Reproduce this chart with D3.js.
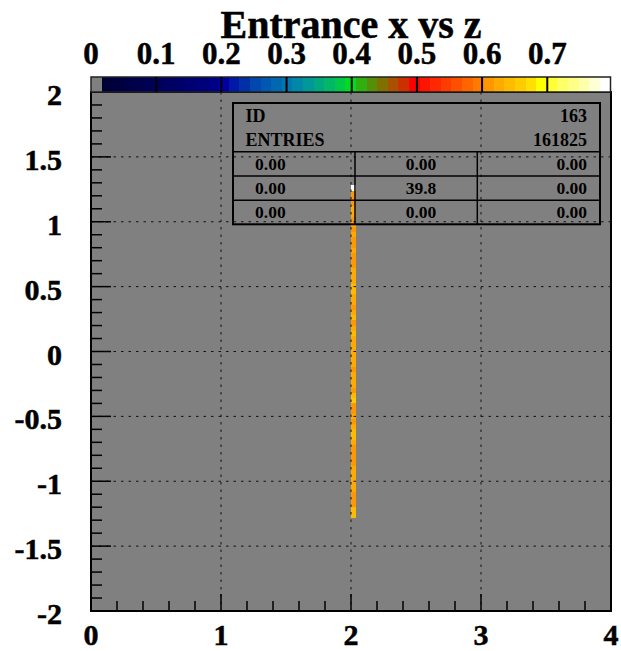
<!DOCTYPE html>
<html><head><meta charset="utf-8">
<script src="https://cdn.jsdelivr.net/npm/d3@7"></script>
<style>
body{margin:0;background:#fff;}
text{font-family:"Liberation Serif","Times New Roman",serif;font-weight:bold;fill:#000;}
text.heavy{stroke:#000;stroke-width:0.5px;}
</style>
</head><body>
<svg id="c" width="621" height="651"></svg>
<script>
// ---------- data ----------
const titleText = "Entrance x vs z";
const xTickValues = [0, 1, 2, 3, 4];
const xTickLabels = ["0", "1", "2", "3", "4"];
const yTickValues = [2, 1.5, 1, 0.5, 0, -0.5, -1, -1.5, -2];
const yTickLabels = ["2", "1.5", "1", "0.5", "0", "-0.5", "-1", "-1.5", "-2"];
const zTickValues = [0, 0.1, 0.2, 0.3, 0.4, 0.5, 0.6, 0.7];
const zTickLabels = ["0", "0.1", "0.2", "0.3", "0.4", "0.5", "0.6", "0.7"];
const zRange = [0, 0.797];
const paletteColors = [
  "#808080","#000038","#00003f","#000046","#00004d","#000054","#00005b","#000062",
  "#00006a","#000072","#00007a","#000084","#0000a0","#0018a8","#0030a8","#0048b0",
  "#0058b0","#0068b0","#0078b0","#0088a8","#009898","#00a880","#00b868","#00c848",
  "#00dd20","#30b010","#558f0a","#7f7000","#aa5000","#cc3000","#ff0000","#ff1400",
  "#ff2800","#ff3c00","#ff5000","#ff6600","#ff7a00","#ff9800","#ffaa00","#ffbb00",
  "#ffcc00","#ffe000","#ffff00","#ffff33","#ffff66","#ffff88","#ffffaa","#ffffd5",
  "#ffffff"
];
const cellXLow = [2.0];
const cellYLow = [
  1.24, 1.20, 1.16, 1.12, 1.08, 1.04, 1.00, 0.96, 0.92, 0.88, 0.84, 0.80, 0.76, 0.72, 0.68, 0.64,
  0.60, 0.56, 0.52, 0.48, 0.44, 0.40, 0.36, 0.32, 0.28, 0.24, 0.20, 0.16, 0.12, 0.08, 0.04, 0.00,
  -0.04, -0.08, -0.12, -0.16, -0.20, -0.24, -0.28, -0.32, -0.36, -0.40, -0.44, -0.48, -0.52, -0.56, -0.60, -0.64,
  -0.68, -0.72, -0.76, -0.80, -0.84, -0.88, -0.92, -0.96, -1.00, -1.04, -1.08, -1.12, -1.16, -1.20, -1.24, -1.28
];
const cellValues = [
  0.79, 0.605, 0.612, 0.612, 0.62, 0.63, 0.612, 0.62, 0.612, 0.63, 0.605, 0.612, 0.63, 0.605, 0.605, 0.612,
  0.63, 0.63, 0.62, 0.64, 0.65, 0.63, 0.62, 0.612, 0.63, 0.64, 0.612, 0.63, 0.65, 0.63, 0.62, 0.63,
  0.63, 0.62, 0.62, 0.612, 0.63, 0.63, 0.62, 0.605, 0.65, 0.66, 0.605, 0.605, 0.62, 0.612, 0.63, 0.64,
  0.64, 0.62, 0.612, 0.612, 0.605, 0.612, 0.62, 0.63, 0.63, 0.62, 0.63, 0.612, 0.612, 0.605, 0.64, 0.64
];
const binWidth = 0.04;
const statsHeader = [["ID", "163"], ["ENTRIES", "161825"]];
const statsRows = [["0.00", "0.00", "0.00"], ["0.00", "39.8", "0.00"], ["0.00", "0.00", "0.00"]];

// ---------- layout ----------
const L = 91, R = 611, T = 92, B = 611;
const svg = d3.select("#c");
const x = d3.scaleLinear().domain([0, 4]).range([L, R]);
const y = d3.scaleLinear().domain([-2, 2]).range([B, T]);
const zPix = d3.scaleLinear().domain(zRange).range([L, 610.5]);
const color = d3.scaleQuantize().domain(zRange).range(paletteColors);

// frame background
svg.append("rect").attr("x", L).attr("y", T).attr("width", R - L).attr("height", B - T).attr("fill", "#808080");

// cells
const cells = cellYLow.map((yl, i) => ({ xl: cellXLow[0], yl: yl, v: cellValues[i] }));
svg.append("g").selectAll("rect").data(cells).join("rect")
  .attr("x", d => x(d.xl))
  .attr("y", d => y(d.yl + binWidth))
  .attr("width", d => x(d.xl + binWidth) - x(d.xl))
  .attr("height", d => y(d.yl) - y(d.yl + binWidth))
  .attr("fill", d => color(d.v))
  .attr("shape-rendering", "crispEdges");

// grid
const grid = svg.append("g").attr("stroke", "#111").attr("stroke-width", 1).attr("stroke-dasharray", "2.5,5");
xTickValues.filter(v => v > 0 && v < 4).forEach(v => {
  grid.append("line").attr("x1", x(v)).attr("x2", x(v)).attr("y1", T).attr("y2", B);
});
yTickValues.filter(v => v > -2 && v < 2).forEach(v => {
  grid.append("line").attr("x1", L).attr("x2", R).attr("y1", y(v)).attr("y2", y(v));
});

// ticks
const ticks = svg.append("g").attr("stroke", "#000").attr("stroke-width", 1.5);
y.ticks(40).forEach(v => {
  const major = Math.abs(v * 2 - Math.round(v * 2)) < 1e-6;
  ticks.append("line").attr("x1", L).attr("x2", L + (major ? 20 : 11)).attr("y1", y(v)).attr("y2", y(v));
});
x.ticks(20).forEach(v => {
  const major = Math.abs(v - Math.round(v)) < 1e-6;
  ticks.append("line").attr("x1", x(v)).attr("x2", x(v)).attr("y1", B).attr("y2", B - (major ? 17 : 10));
});

// frame border
svg.append("rect").attr("x", L).attr("y", T).attr("width", R - L).attr("height", B - T)
  .attr("fill", "none").attr("stroke", "#000").attr("stroke-width", 2);

// stats box
const sb = { l: 233, r: 600, t: 103, b: 224.3, hdr: 151.7, rows: [176, 200.3], cols: [355, 477.3] };
const st = svg.append("g");
st.append("rect").attr("x", sb.l).attr("y", sb.t).attr("width", sb.r - sb.l).attr("height", sb.b - sb.t)
  .attr("fill", "none").attr("stroke", "#000").attr("stroke-width", 2);
st.append("line").attr("x1", sb.l).attr("x2", sb.r).attr("y1", sb.hdr).attr("y2", sb.hdr).attr("stroke", "#000").attr("stroke-width", 1.5);
sb.rows.forEach(yy => st.append("line").attr("x1", sb.l).attr("x2", sb.r).attr("y1", yy).attr("y2", yy).attr("stroke", "#000").attr("stroke-width", 1.5));
sb.cols.forEach(xx => st.append("line").attr("x1", xx).attr("x2", xx).attr("y1", sb.hdr).attr("y2", sb.b).attr("stroke", "#000").attr("stroke-width", 1.5));
const hdrBase = [121.5, 145.5];
statsHeader.forEach((h, i) => {
  st.append("text").attr("x", 245.5).attr("y", hdrBase[i]).attr("font-size", 18).text(h[0]);
  st.append("text").attr("x", 587).attr("y", hdrBase[i]).attr("font-size", 18).attr("text-anchor", "end").text(h[1]);
});
const rowBase = [170, 194, 218.3];
statsRows.forEach((r, i) => {
  st.append("text").attr("x", 255).attr("y", rowBase[i]).attr("font-size", 17.5).text(r[0]);
  st.append("text").attr("x", 421).attr("y", rowBase[i]).attr("font-size", 17.5).attr("text-anchor", "middle").text(r[1]);
  st.append("text").attr("x", 587).attr("y", rowBase[i]).attr("font-size", 17.5).attr("text-anchor", "end").text(r[2]);
});

// colour bar
const cbT = 77, cbB = 92;
const lw = (zRange[1] - zRange[0]) / paletteColors.length;
const cb = svg.append("g");
cb.selectAll("rect").data(paletteColors).join("rect")
  .attr("x", (c, i) => zPix(i * lw))
  .attr("y", cbT)
  .attr("width", (c, i) => zPix((i + 1) * lw) - zPix(i * lw) + 0.3)
  .attr("height", cbB - cbT)
  .attr("fill", c => c)
  .attr("shape-rendering", "crispEdges");
cb.append("rect").attr("x", L).attr("y", cbT).attr("width", 610.5 - L).attr("height", cbB - cbT)
  .attr("fill", "none").attr("stroke", "#222").attr("stroke-width", 1.5);
zTickValues.filter(v => v > 0).forEach(v => {
  cb.append("line").attr("x1", zPix(v)).attr("x2", zPix(v)).attr("y1", cbT).attr("y2", cbB)
    .attr("stroke", "#000").attr("stroke-width", 2);
});

// labels
svg.append("text").attr("class", "heavy").attr("x", 351).attr("y", 38).attr("font-size", 40).attr("text-anchor", "middle").text(titleText);
zTickValues.forEach((v, i) => {
  svg.append("text").attr("class", "heavy").attr("x", zPix(v)).attr("y", 64).attr("font-size", 31).attr("text-anchor", "middle").text(zTickLabels[i]);
});
yTickValues.forEach((v, i) => {
  svg.append("text").attr("class", "heavy").attr("x", 62).attr("y", y(v) + 13).attr("font-size", 30).attr("text-anchor", "end").text(yTickLabels[i]);
});
xTickValues.forEach((v, i) => {
  svg.append("text").attr("class", "heavy").attr("x", x(v)).attr("y", 645).attr("font-size", 30).attr("text-anchor", "middle").text(xTickLabels[i]);
});
</script>
</body></html>
